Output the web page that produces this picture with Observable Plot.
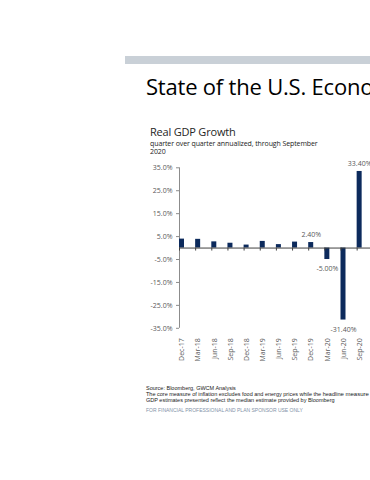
<!DOCTYPE html>
<html><head><meta charset="utf-8">
<script src="https://cdn.jsdelivr.net/npm/d3@7"></script>
<script src="https://cdn.jsdelivr.net/npm/@observablehq/plot@0.6"></script>
<style>
html,body{margin:0;padding:0;background:#fff;}
body{width:370px;height:480px;overflow:hidden;position:relative;font-family:"Open Sans",sans-serif;}
.abs{position:absolute;white-space:nowrap;}
#chart{position:absolute;left:140px;top:160px;width:240px;height:205px;}
#chart svg{overflow:visible;max-width:none !important;}
.foot{font-family:"Liberation Sans",Arial,sans-serif;font-size:5.5px;line-height:6px;color:#1a1a1a;}
</style></head><body>
<div class="abs" style="left:125px;top:56px;width:260px;height:8px;background:#c9d0d7"></div>
<div class="abs" style="left:146px;top:74.5px;font-size:22px;line-height:22px;color:#000;letter-spacing:-0.2px">State of the U.S. Economy</div>
<div class="abs" style="left:150px;top:126.2px;font-size:11px;line-height:11px;color:#262626;letter-spacing:-0.2px">Real GDP Growth</div>
<div class="abs" style="left:150px;top:139.7px;font-size:7px;line-height:8.6px;color:#1a1a1a;letter-spacing:-0.1px">quarter over quarter annualized, through September<br>2020</div>
<div id="chart"></div>
<div class="abs foot" style="left:146px;top:385.2px">Source: Bloomberg, GWCM Analysis</div>
<div class="abs foot" style="left:146px;top:391.2px">The core measure of inflation excludes food and energy prices while the headlin<span style="font-size:6px">e measure of inflation includes them</span></div>
<div class="abs foot" style="left:146px;top:397.2px">GDP estimates presented reflect the median estimate provided by Bloomberg</div>
<div class="abs foot" style="left:146px;top:406.5px;color:#8393a8;font-size:5px">FOR FINANCIAL PROFESSIONAL AND PLAN SPONSOR USE ONLY</div>
<script>
const quarters = ["Dec-17","Mar-18","Jun-18","Sep-18","Dec-18","Mar-19","Jun-19","Sep-19","Dec-19","Mar-20","Jun-20","Sep-20"];
const growth = [3.9, 3.8, 2.7, 2.1, 1.3, 2.9, 1.5, 2.6, 2.4, -5.0, -31.4, 33.4];
const yTicks = [-35, -25, -15, -5, 5, 15, 25, 35];
const labeledQuarters = ["Dec-19","Mar-20","Jun-20","Sep-20"];

const data = quarters.map((q, i) => ({q, v: growth[i]}));
const labeled = data.filter(d => labeledQuarters.includes(d.q));

const W = 240, H = 205, ML = 39, bandSpan = 193.8, MR = W - ML - bandSpan;
const bw = bandSpan / quarters.length;
const barW = 5;
const shift = -(bw - barW) / 2;
const gray = "#595959";

const chart = Plot.plot({
  width: W, height: H,
  marginLeft: ML, marginRight: MR, marginTop: 7.3, marginBottom: 37.2,
  style: {fontFamily: '"Open Sans", sans-serif', background: "transparent", overflow: "visible", maxWidth: "none"},
  x: {domain: quarters, type: "band", padding: 0, round: false, label: null},
  y: {domain: [-35, 35], label: null},
  marks: [
    Plot.ruleX([quarters[0]], {x: d => d, y1: -35, y2: 35, dx: -bw / 2, stroke: "#8c8c8c", strokeWidth: 1}),
    Plot.barY(data, {x: "q", y: "v", fill: "#0c2a5c", insetLeft: 0, insetRight: bw - barW}),
    Plot.ruleY([0], {stroke: "#404040", strokeWidth: 1}),
    Plot.ruleX(quarters, {x: d => d, y1: 0, y2: 0, insetBottom: -3, dx: -bw / 2, stroke: "#404040"}),
    Plot.axisY(yTicks, {tickFormat: d => d.toFixed(1) + "%", tickSize: 3, tickPadding: 4, fontSize: 7, color: gray, stroke: "#8c8c8c"}),
    Plot.axisX({tickRotate: -90, tickSize: 0, tickPadding: 10, dx: shift, fontSize: 7, color: gray}),
    Plot.text(labeled.filter(d => d.v >= 0), {x: "q", y: "v", text: d => d.v.toFixed(2) + "%", dx: shift, dy: -8, fontSize: 7, fill: gray}),
    Plot.text(labeled.filter(d => d.v < 0), {x: "q", y: "v", text: d => d.v.toFixed(2) + "%", dx: shift, dy: 9.5, fontSize: 7, fill: gray})
  ]
});
document.getElementById("chart").appendChild(chart);
</script>
</body></html>
